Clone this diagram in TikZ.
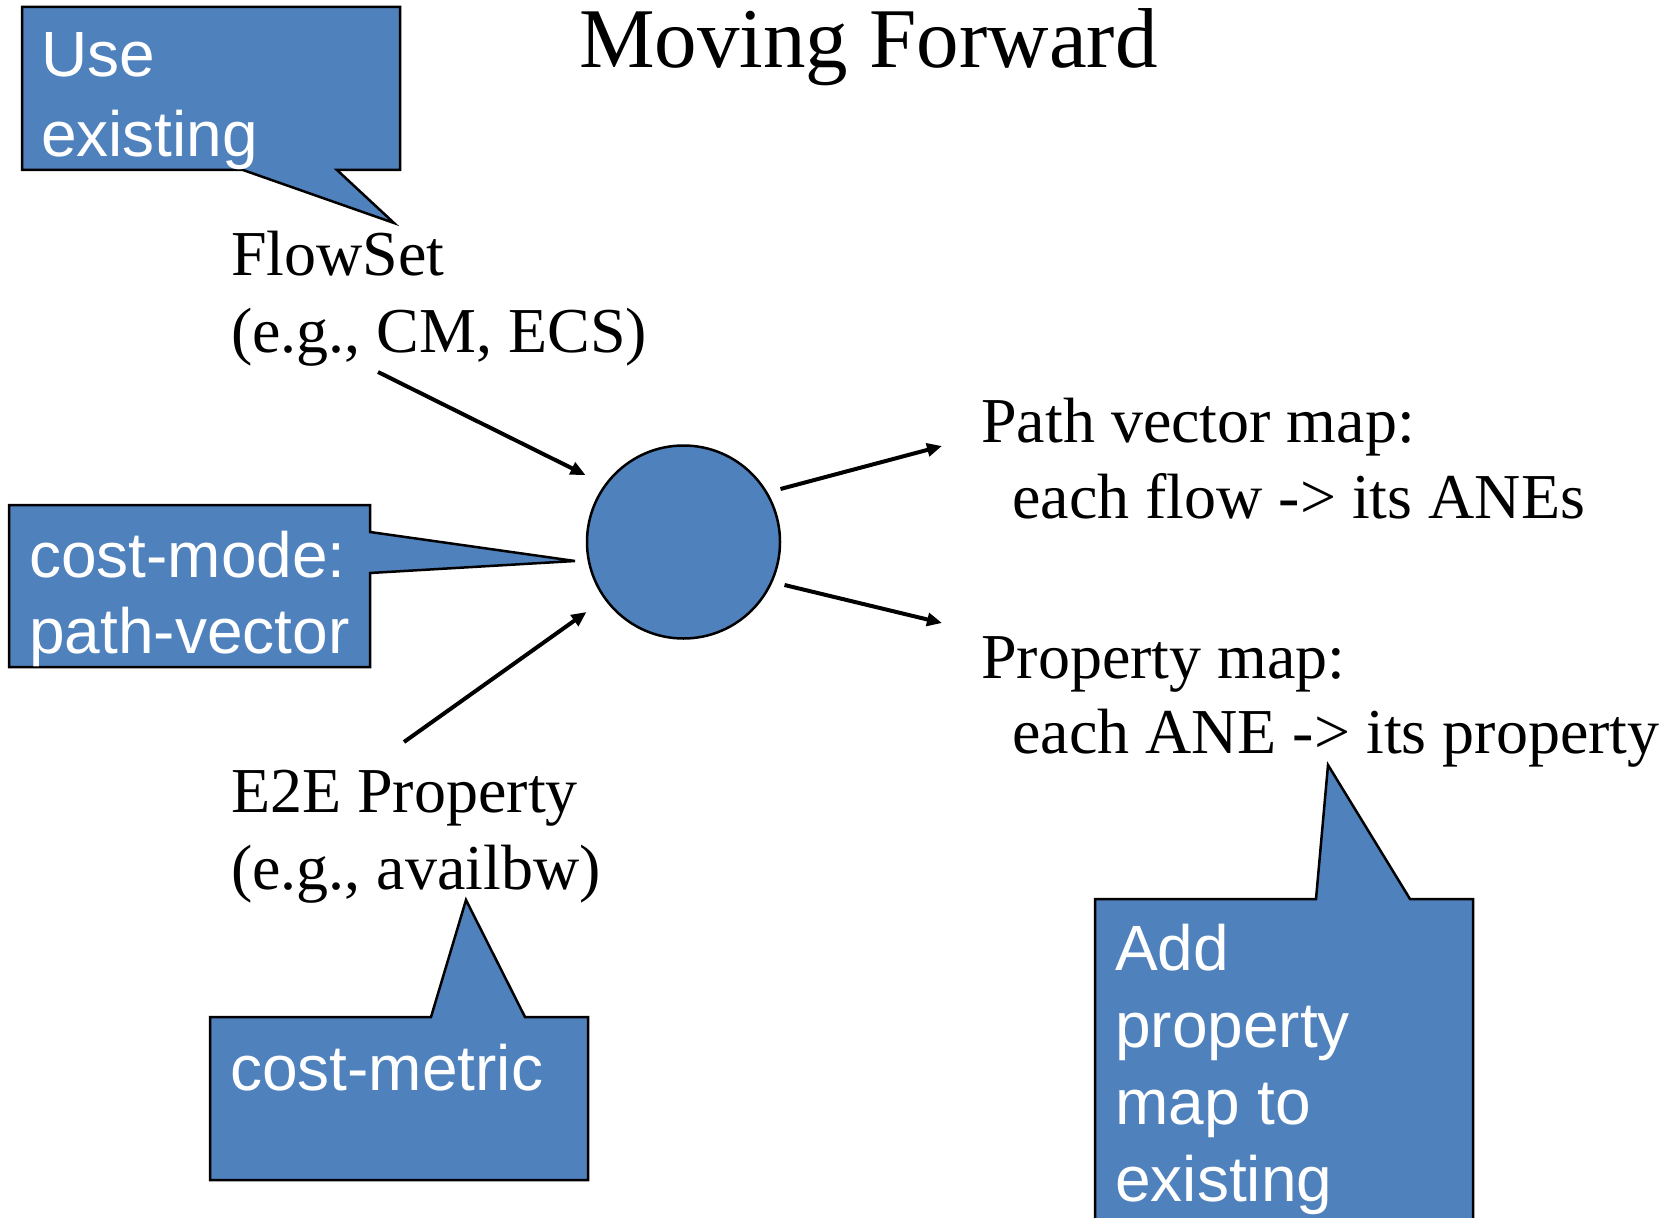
\documentclass[tikz,border=0pt]{standalone}
\usepackage{fontspec}
\setmainfont{Liberation Serif}
\newfontfamily\arialf{Liberation Sans}
\usetikzlibrary{arrows.meta,calc}
\definecolor{calloutblue}{HTML}{4F81BD}
\begin{document}
\begin{tikzpicture}[x=1pt,y=-1pt,
  lbl/.style={anchor=base west,inner sep=0pt,font=\fontsize{64}{77}\selectfont},
  titlestyle/.style={anchor=base west,inner sep=0pt,font=\fontsize{85}{100}\selectfont},
  ctext/.style={anchor=base west,inner sep=0pt,text=white,font=\arialf\fontsize{64}{77}\selectfont},
  callout/.style={fill=calloutblue,draw=black,line width=2.5pt,line join=miter},
  arr/.style={line width=4pt,-{Triangle[length=15pt,width=13pt]}},
  hubstyle/.style={circle,fill=calloutblue,draw=black,line width=2.5pt,minimum size=193pt,inner sep=0pt}]
\useasboundingbox (0,0) rectangle (1669,1217);
\clip (0,0) rectangle (1669,1217);

% title
\node[titlestyle] (title) at (579,68) {Moving Forward};

% callout shapes
\filldraw[callout] (22,7) -- (400,7) -- (400,170) -- (337,170) -- (394,223) -- (243,170) -- (22,170) -- cycle;
\filldraw[callout] (9,505) -- (370,505) -- (370,532) -- (575,561) -- (370,573) -- (370,667) -- (9,667) -- cycle;
\filldraw[callout] (210,1017) -- (431,1017) -- (466,900) -- (525,1017) -- (588,1017) -- (588,1180) -- (210,1180) -- cycle;
\filldraw[callout] (1095,899) -- (1316,899) -- (1328,765) -- (1410,899) -- (1473,899) -- (1473,1240) -- (1095,1240) -- cycle;

% callout texts
\node[ctext] (use1) at (41,77) {Use};
\node[ctext] (use2) at (41,157) {existing};
\node[ctext] (cm1) at (29,577) {cost-mode:};
\node[ctext] (cm2) at (29,653) {path-vector};
\node[ctext] (cmet) at (230,1090) {cost-metric};
\node[ctext] (add1) at (1115,970) {Add};
\node[ctext] (add2) at (1115,1047) {property};
\node[ctext] (add3) at (1115,1124) {map to};
\node[ctext] (add4) at (1115,1201) {existing};

% labels
\node[lbl] (fl1) at (231,275) {FlowSet};
\node[lbl] (fl2) at (231,352) {(e.g., CM, ECS)};
\node[lbl] (e2e1) at (231,812) {E2E Property};
\node[lbl] (e2e2) at (231,889) {(e.g., availbw)};
\node[lbl] (pv1) at (981,442) {Path vector map:};
\node[lbl] (pv2) at (1012,518) {each flow -> its ANEs};
\node[lbl] (pm1) at (981,678) {Property map:};
\node[lbl] (pm2) at (1012,753) {each ANE -> its property};

% hub
\node[hubstyle] (hub) at (683.5,542) {};

% connectors
\draw[arr] ([shift={(147,20)}]fl2.base west) -- ($(hub.center)+(-98,-67)$);
\draw[arr] ([shift={(173,-70)}]e2e1.base west) -- ($(hub.center)+(-97,70)$);
\draw[arr] ($(hub.center)+(97,-53)$) -- ([shift={(-39,4)}]pv1.base west);
\draw[arr] ($(hub.center)+(101,43)$) -- ([shift={(-39,-55)}]pm1.base west);
\end{tikzpicture}
\end{document}
